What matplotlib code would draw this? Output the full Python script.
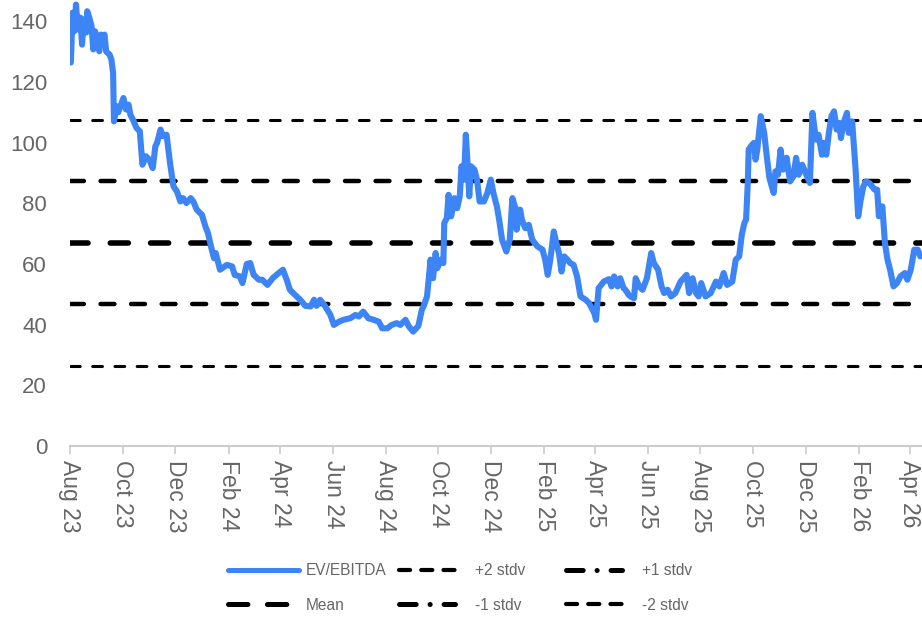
import matplotlib
matplotlib.use("Agg")
import matplotlib.pyplot as plt
import matplotlib.dates as mdates
from matplotlib.lines import Line2D
import pandas as pd

plt.rcParams['font.family'] = ['Liberation Sans', 'DejaVu Sans']
plt.rcParams['lines.scale_dashes'] = False

# EV/EBITDA multiple (one row per month)
dates = [
    '2023-08-02', '2023-08-04', '2023-08-06', '2023-08-08', '2023-08-10', '2023-08-13', '2023-08-15',
    '2023-08-17', '2023-08-20', '2023-08-21', '2023-08-24', '2023-08-26', '2023-08-28', '2023-08-30',
    '2023-09-01', '2023-09-04', '2023-09-06', '2023-09-08', '2023-09-10', '2023-09-12', '2023-09-16',
    '2023-09-18', '2023-09-20', '2023-09-21', '2023-09-24', '2023-09-26',
    '2023-10-02', '2023-10-05', '2023-10-08', '2023-10-10', '2023-10-13', '2023-10-17', '2023-10-21',
    '2023-10-24', '2023-10-28',
    '2023-11-01', '2023-11-05', '2023-11-08', '2023-11-10', '2023-11-14', '2023-11-17', '2023-11-21',
    '2023-11-25', '2023-11-29',
    '2023-12-03', '2023-12-07', '2023-12-10', '2023-12-14', '2023-12-19', '2023-12-22', '2023-12-26',
    '2024-01-01', '2024-01-05', '2024-01-08', '2024-01-12', '2024-01-15', '2024-01-17', '2024-01-22', '2024-01-30',
    '2024-02-05', '2024-02-08', '2024-02-14', '2024-02-17', '2024-02-22', '2024-02-26',
    '2024-03-01', '2024-03-03', '2024-03-07', '2024-03-11', '2024-03-17', '2024-03-23', '2024-03-30',
    '2024-04-04', '2024-04-09', '2024-04-12', '2024-04-18', '2024-04-24', '2024-04-30',
    '2024-05-06', '2024-05-10', '2024-05-13', '2024-05-17', '2024-05-23', '2024-05-29',
    '2024-06-02', '2024-06-08', '2024-06-13', '2024-06-21', '2024-06-27',
    '2024-07-01', '2024-07-06', '2024-07-12', '2024-07-18', '2024-07-24', '2024-07-28',
    '2024-08-03', '2024-08-08', '2024-08-14', '2024-08-18', '2024-08-24', '2024-08-28',
    '2024-09-02', '2024-09-08', '2024-09-12', '2024-09-14', '2024-09-18', '2024-09-21', '2024-09-22',
    '2024-09-25', '2024-09-28', '2024-09-30',
    '2024-10-04', '2024-10-07', '2024-10-08', '2024-10-11', '2024-10-13', '2024-10-16', '2024-10-20',
    '2024-10-23', '2024-10-26', '2024-10-28', '2024-10-31',
    '2024-11-02', '2024-11-04', '2024-11-06', '2024-11-08', '2024-11-12', '2024-11-15', '2024-11-18',
    '2024-11-23', '2024-11-27',
    '2024-12-01', '2024-12-04', '2024-12-08', '2024-12-11', '2024-12-14', '2024-12-19', '2024-12-23',
    '2024-12-26', '2024-12-30', '2024-12-31',
    '2025-01-04', '2025-01-06', '2025-01-10', '2025-01-14', '2025-01-18', '2025-01-24', '2025-01-30',
    '2025-02-02', '2025-02-05', '2025-02-08', '2025-02-12', '2025-02-15', '2025-02-18', '2025-02-21',
    '2025-02-24', '2025-02-28',
    '2025-03-03', '2025-03-07', '2025-03-11', '2025-03-15', '2025-03-21', '2025-03-25', '2025-03-31',
    '2025-04-02', '2025-04-05', '2025-04-11', '2025-04-17', '2025-04-20', '2025-04-23', '2025-04-27', '2025-04-30',
    '2025-05-04', '2025-05-06', '2025-05-10', '2025-05-12', '2025-05-16', '2025-05-18', '2025-05-22',
    '2025-05-26', '2025-05-31',
    '2025-06-05', '2025-06-08', '2025-06-13', '2025-06-17', '2025-06-20', '2025-06-24', '2025-06-28',
    '2025-07-03', '2025-07-09', '2025-07-16', '2025-07-19', '2025-07-23', '2025-07-27', '2025-07-30',
    '2025-08-02', '2025-08-07', '2025-08-13', '2025-08-19', '2025-08-23', '2025-08-28',
    '2025-09-01', '2025-09-07', '2025-09-11', '2025-09-15', '2025-09-18', '2025-09-21', '2025-09-23',
    '2025-09-25', '2025-09-26', '2025-09-30',
    '2025-10-02', '2025-10-04', '2025-10-06', '2025-10-10', '2025-10-14', '2025-10-17', '2025-10-20',
    '2025-10-25', '2025-10-27', '2025-10-30',
    '2025-11-02', '2025-11-05', '2025-11-09', '2025-11-13', '2025-11-17', '2025-11-20', '2025-11-23', '2025-11-27',
    '2025-12-01', '2025-12-06', '2025-12-09', '2025-12-13', '2025-12-16', '2025-12-20', '2025-12-22',
    '2025-12-25', '2025-12-28', '2025-12-31',
    '2026-01-03', '2026-01-06', '2026-01-09', '2026-01-11', '2026-01-14', '2026-01-18', '2026-01-20',
    '2026-01-24', '2026-01-28', '2026-01-31',
    '2026-02-03', '2026-02-06', '2026-02-09', '2026-02-13', '2026-02-16', '2026-02-19', '2026-02-22',
    '2026-02-24', '2026-02-28',
    '2026-03-03', '2026-03-06', '2026-03-09', '2026-03-13', '2026-03-17', '2026-03-21', '2026-03-26', '2026-03-29',
    '2026-04-02', '2026-04-06', '2026-04-10', '2026-04-13',
]
ev_ebitda = [
    126.4, 142.8, 136.7, 145.5, 137.3, 141.2, 132.3,
    140.6, 136.3, 143.3, 140.6, 138.4, 130.7, 136.7,
    135.1, 130.1, 135.6, 134.0, 135.6, 130.0, 129.0,
    127.4, 123.0, 107.0, 112.0, 110.0,
    114.7, 110.9, 112.5, 109.2, 107.6, 104.9, 103.7,
    92.7, 95.5,
    94.4, 91.6, 98.8, 99.9, 104.3, 102.1, 102.6,
    93.3, 85.6,
    83.9, 80.6, 81.7, 80.1, 81.7, 80.6, 77.9,
    76.2, 72.4, 70.2, 65.2, 61.9, 63.6, 58.1, 59.7,
    59.2, 56.4, 55.9, 53.7, 60.0, 60.3,
    56.4, 55.9, 54.8, 54.8, 53.1, 55.3, 57.0,
    58.1, 54.2, 51.5, 49.8, 48.2, 46.2,
    46.0, 48.2, 46.2, 48.2, 46.0, 43.2,
    39.9, 41.0, 41.6, 42.1, 43.2,
    42.7, 44.3, 42.1, 41.6, 41.0, 38.8,
    38.8, 39.9, 40.5, 39.9, 41.6, 39.4,
    37.7, 39.6, 44.9, 46.0, 49.3, 58.0, 61.4,
    55.3, 63.6, 58.6,
    61.4, 60.3, 73.5, 75.1, 82.8, 75.7, 81.7,
    78.4, 82.3, 92.2, 87.8,
    102.6, 93.3, 82.3, 92.2, 91.1, 87.8, 80.6,
    80.6, 83.4,
    87.8, 83.4, 79.0, 74.0, 68.0, 64.1, 68.0,
    81.7, 77.9, 71.3,
    77.9, 74.6, 71.8, 72.9, 68.0, 65.8, 64.7,
    61.4, 56.4, 61.4, 70.7, 66.9, 63.6, 57.5,
    62.5, 61.4,
    60.3, 59.7, 55.9, 49.3, 48.2, 47.1, 43.8,
    41.6, 52.0, 54.2, 55.0, 52.6, 55.9, 52.6, 55.3,
    52.0, 51.5, 49.8, 49.3, 48.7, 55.3, 52.6,
    51.5, 55.3,
    63.6, 60.3, 58.1, 52.6, 50.4, 51.5, 49.3,
    50.4, 54.2, 56.4, 50.4, 55.3, 50.4, 49.3,
    53.7, 49.3, 50.4, 54.2, 52.6, 57.0,
    53.1, 54.2, 61.4, 62.5, 69.6, 73.5, 74.6,
    86.7, 97.7, 99.3,
    99.9, 94.4, 97.7, 108.7, 103.2, 95.5, 88.4,
    83.4, 90.5, 89.4,
    97.7, 91.1, 95.0, 87.2, 88.9, 95.0, 89.4, 92.7,
    90.0, 86.7, 109.8, 101.0, 102.6, 96.0, 99.9,
    96.0, 103.2, 108.7,
    110.3, 104.3, 106.5, 101.5, 106.5, 109.8, 103.2,
    107.0, 91.1, 75.7,
    81.2, 85.6, 87.2, 86.7, 85.6, 84.5, 84.5,
    75.7, 79.0,
    66.9, 61.4, 58.1, 52.6, 53.7, 55.9, 57.0, 54.8,
    58.1, 64.7, 64.7, 62.5,
]

mean_val = 67.0
stdv = 20.3
tick_months = pd.date_range('2023-08-01', '2026-04-01', freq='2MS')
y_ticks = [0, 20, 40, 60, 80, 100, 120, 140]

x = pd.to_datetime(dates)
grey = '#666666'
blue = '#3D85F4'

fig = plt.figure(figsize=(9.22, 6.18), dpi=100)
ax = fig.add_axes([0.0759, 0.2783, 0.9241, 0.7217])

# band lines: (level, linewidth, dash pattern)
bands = [
    (mean_val + 2 * stdv, 2.2, (7, 9)),
    (mean_val + stdv, 3.2, (10, 12)),
    (mean_val, 4.0, (13, 16)),
    (mean_val - stdv, 3.2, (10, 12)),
    (mean_val - 2 * stdv, 2.2, (7, 9)),
]
for level, lw, dash in bands:
    ax.axhline(level, color='black', lw=lw, dashes=dash, dash_capstyle='round', zorder=2)

ax.plot(x, ev_ebitda, color=blue, lw=4.4, solid_joinstyle='round',
        solid_capstyle='round', zorder=3)

ax.set_ylim(0, 147)
ax.set_xlim(pd.Timestamp('2023-08-01'), pd.Timestamp('2026-04-15'))
ax.set_yticks(y_ticks)
ax.set_xticks(tick_months)
ax.xaxis.set_major_formatter(mdates.DateFormatter('%b %y'))
ax.tick_params(axis='x', rotation=-90, labelsize=16.5, colors='#cccccc', labelcolor=grey,
               length=6, width=1.2, pad=4)
ax.tick_params(axis='y', length=0, labelsize=16, labelcolor=grey, pad=16.5)
for lab in ax.get_xticklabels():
    lab.set_va('top')
    lab.set_ha('center')

for side in ['top', 'right', 'left']:
    ax.spines[side].set_visible(False)
ax.spines['bottom'].set_color('#cccccc')
ax.spines['bottom'].set_linewidth(1.5)

# legend proxies, laid out as three fixed-width columns
handles = [
    Line2D([], [], color=blue, lw=3.6, solid_capstyle='round'),
    Line2D([], [], color='black', lw=3.0, dashes=(8, 8), dash_capstyle='round'),
    Line2D([], [], color='black', lw=3.6, dashes=(12, 10, 0.1, 10), dash_capstyle='round'),
    Line2D([], [], color='black', lw=3.6, dashes=(14, 14), dash_capstyle='round'),
    Line2D([], [], color='black', lw=3.6, dashes=(12, 10, 0.1, 10), dash_capstyle='round'),
    Line2D([], [], color='black', lw=3.0, dashes=(8, 8), dash_capstyle='round'),
]
labels = ['EV/EBITDA', '+2 stdv', '+1 stdv', 'Mean', '-1 stdv', '-2 stdv']
col_x = [0.247, 0.433, 0.614]
col_handle = [4.6, 3.6, 3.6]
col_pad = [0.4, 1.3, 1.3]
for c in range(3):
    fig.legend([handles[c], handles[c + 3]], [labels[c], labels[c + 3]],
               loc='center left', bbox_to_anchor=(col_x[c], 0.0485),
               frameon=False, fontsize=11.2, labelcolor=grey,
               handlelength=col_handle[c], handletextpad=col_pad[c],
               labelspacing=1.25, borderpad=0, borderaxespad=0)

fig.savefig('out.png', dpi=100)
